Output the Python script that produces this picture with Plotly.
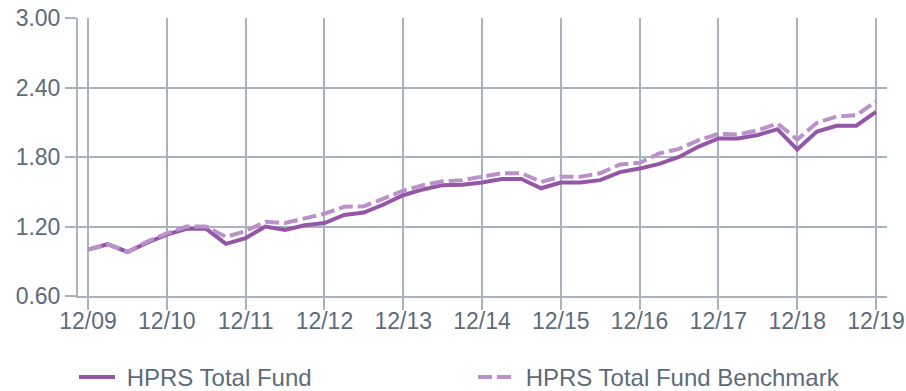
import plotly.graph_objects as go

# Quarter-end growth of $1, Dec 2009 - Dec 2019
quarters = list(range(41))
year_ticks = [0, 4, 8, 12, 16, 20, 24, 28, 32, 36, 40]
year_labels = ["12/09", "12/10", "12/11", "12/12", "12/13", "12/14",
               "12/15", "12/16", "12/17", "12/18", "12/19"]

total_fund = [1.00, 1.047, 0.98, 1.06, 1.13, 1.18, 1.18, 1.05, 1.10,
              1.20, 1.17, 1.21, 1.23, 1.30, 1.32, 1.39, 1.47,
              1.52, 1.557, 1.56, 1.58, 1.61, 1.61, 1.53, 1.58,
              1.58, 1.60, 1.67, 1.70, 1.74, 1.80, 1.89, 1.96,
              1.96, 1.99, 2.04, 1.865, 2.02, 2.07, 2.07, 2.19]

benchmark = [1.00, 1.045, 0.98, 1.07, 1.14, 1.20, 1.20, 1.11, 1.16,
             1.24, 1.23, 1.27, 1.31, 1.37, 1.375, 1.44, 1.51,
             1.557, 1.59, 1.60, 1.63, 1.66, 1.66, 1.585, 1.63,
             1.63, 1.66, 1.735, 1.75, 1.83, 1.87, 1.945, 2.00,
             1.995, 2.03, 2.09, 1.95, 2.095, 2.15, 2.16, 2.28]

series_names = ["HPRS Total Fund", "HPRS Total Fund Benchmark"]

y_ticks = [0.60, 1.20, 1.80, 2.40, 3.00]

grid = "#a8b3bf"
text_col = "#5b6b7b"
font_family = "Liberation Sans, Arial, sans-serif"
pad = "\u00a0"  # small gap between legend swatch and label

fig = go.Figure()
fig.add_trace(go.Scatter(
    x=quarters, y=total_fund, mode="lines", name=pad + series_names[0],
    line=dict(color="#9457a5", width=4), legend="legend",
))
fig.add_trace(go.Scatter(
    x=quarters, y=benchmark, mode="lines", name=pad + series_names[1],
    line=dict(color="#bb91c9", width=4, dash="14px,5px"), legend="legend2",
))

legend_common = dict(
    orientation="h",
    xref="container", xanchor="left",
    yref="container", y=0.035, yanchor="middle",
    font=dict(size=24, color=text_col, family=font_family),
    itemwidth=36, bgcolor="rgba(0,0,0,0)",
)

fig.update_layout(
    width=906, height=391,
    margin=dict(l=78, r=19, t=18, b=95, autoexpand=False),
    paper_bgcolor="white", plot_bgcolor="white",
    font=dict(family=font_family, color=text_col),
    showlegend=True,
    legend=dict(legend_common, x=74 / 906),
    legend2=dict(legend_common, x=473 / 906),
)

fig.update_xaxes(
    range=[-0.51, 40.56],
    tickmode="array", tickvals=year_ticks, ticktext=year_labels,
    showgrid=True, gridcolor=grid, gridwidth=2,
    showline=True, linecolor=grid, linewidth=2,
    ticks="outside", ticklen=12, tickwidth=2, tickcolor=grid,
    tickfont=dict(size=23, color=text_col, family=font_family),
    ticklabelstandoff=-9,
    zeroline=False, fixedrange=True,
)
fig.update_yaxes(
    range=[0.6, 3.0],
    tickmode="array", tickvals=y_ticks,
    tickformat=".2f",
    showgrid=True, gridcolor=grid, gridwidth=2,
    showline=True, linecolor=grid, linewidth=2,
    ticks="outside", ticklen=11, tickwidth=2, tickcolor=grid,
    tickfont=dict(size=23, color=text_col, family=font_family),
    ticklabelstandoff=0,
    zeroline=False, fixedrange=True,
)

fig.write_html("out.html", config={"displayModeBar": False})
